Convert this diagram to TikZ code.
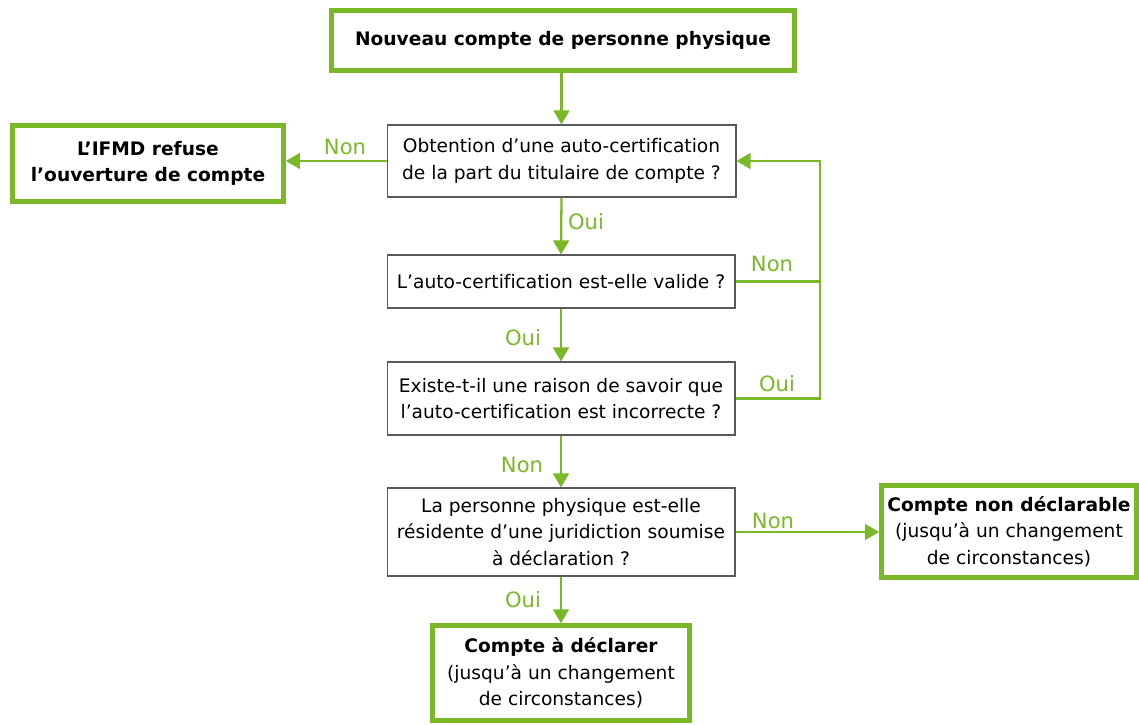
\documentclass[tikz,border=0pt]{standalone}
\usepackage{fontspec}
\setmainfont[Ligatures=NoCommon]{DejaVu Sans}
\usetikzlibrary{arrows.meta}
\definecolor{vert}{RGB}{122,184,40}

\begin{document}
\begin{tikzpicture}[x=0.02cm, y=-0.02cm, >={Triangle[length=8pt,width=9pt]},
   font=\fontsize{10.6}{15}\selectfont,
   fin/.style={draw=vert, line width=2.8pt, fill=white, align=center, inner sep=0pt},
   quest/.style={draw=black!65, line width=0.6pt, align=center, inner sep=0pt},
   lien/.style={draw=vert, line width=1.3pt},
   etiq/.style={text=vert, font=\fontsize{12}{14}\selectfont}]

  \useasboundingbox (0,0) rectangle (1139,724);

  \node[fin, minimum width=9.26cm, minimum height=1.2cm] (debut) at (563,40.5) {\textbf{Nouveau compte de personne physique}};

  \node[quest, minimum width=6.98cm, minimum height=1.44cm] (q1) at (561.5,161) {Obtention d’une auto-certification\\de la part du titulaire de compte ?};
  \node[fin, minimum width=5.42cm, minimum height=1.52cm] (refus) at (148,163.5) {\textbf{L’IFMD refuse}\\\textbf{l’ouverture de compte}};

  \node[quest, minimum width=6.96cm, minimum height=1.06cm] (q2) at (561,281.5) {L’auto-certification est-elle valide ?};
  \node[quest, minimum width=6.96cm, minimum height=1.46cm] (q3) at (561,398.5) {Existe-t-il une raison de savoir que\\l’auto-certification est incorrecte ?};
  \node[quest, minimum width=6.96cm, minimum height=1.76cm] (q4) at (561,532) {La personne physique est-elle\\résidente d’une juridiction soumise\\à déclaration ?};

  \node[fin, minimum width=5.1cm, minimum height=1.84cm] (nondecl) at (1009,531.5) {\textbf{Compte non déclarable}\\(jusqu’à un changement\\de circonstances)};
  \node[fin, minimum width=5.14cm, minimum height=1.89cm] (decl) at (561,673) {\textbf{Compte à déclarer}\\(jusqu’à un changement\\de circonstances)};

  \coordinate (dr) at (820,0);

  \draw[lien,->] (debut.south -| q1.north) -- (q1.north);
  \draw[lien,->] (q1.west) -- (q1.west -| refus.east);
    \node[etiq] (e1) at (345,147) {Non};
  \draw[lien,->] (q1.south) -- (q2.north);
    \node[etiq] (e2) at (586,222) {Oui};
  \draw[lien,->] (q2.south) -- (q3.north);
    \node[etiq] (e3) at (523,338) {Oui};
  \draw[lien,->] (q3.south) -- (q4.north);
    \node[etiq] (e4) at (522,465) {Non};
  \draw[lien,->] (q4.south) -- (decl.north);
    \node[etiq] (e5) at (523,600) {Oui};
  \draw[lien,->] (q4.east) -- (q4.east -| nondecl.west);
    \node[etiq] (e6) at (773,521) {Non};

  % retour vers la premiere question
  \draw[lien] (q2.east) -- (q2.east -| dr);
    \node[etiq] (e7) at (772,264) {Non};
  \draw[lien,->] (q3.east) -- (q3.east -| dr) |- (q1.east);
    \node[etiq] (e8) at (777,384) {Oui};

\end{tikzpicture}
\end{document}
